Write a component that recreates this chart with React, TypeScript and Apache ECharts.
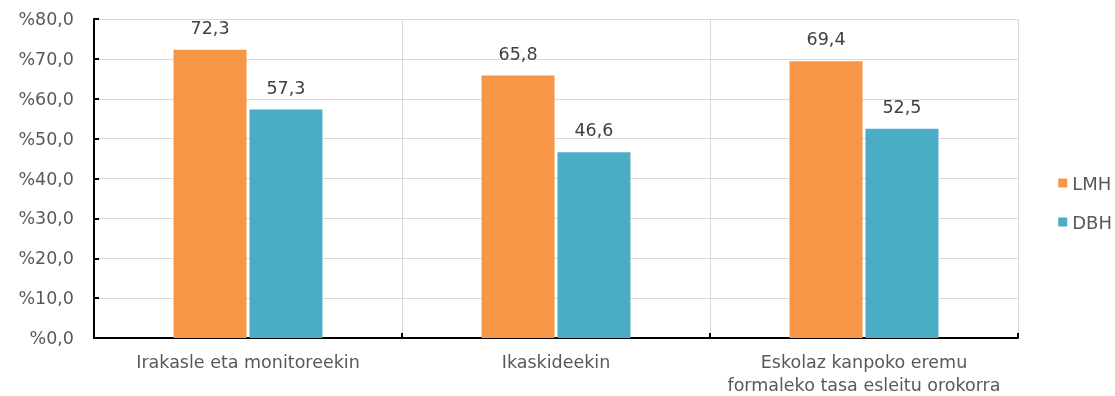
import React, { useEffect, useRef } from "react";
import * as echarts from "echarts";

const categories = [
  "Irakasle eta monitoreekin",
  "Ikaskideekin",
  "Eskolaz kanpoko eremu\nformaleko tasa esleitu orokorra",
];
const lmhValues = [72.3, 65.8, 69.4];
const dbhValues = [57.3, 46.6, 52.5];
const seriesNames = ["LMH", "DBH"];

const FONT = "DejaVu Sans, Verdana, sans-serif";
const FS = 17.5;
const fmt = (v: number) => v.toFixed(1).replace(".", ",");

export default function App() {
  const ref = useRef<HTMLDivElement>(null);
  useEffect(() => {
    if (!ref.current) return;
    const chart = echarts.init(ref.current, undefined, { renderer: "svg" });
    const labelCfg = {
      show: true,
      position: "top" as const,
      distance: 13,
      color: "#404040",
      fontSize: FS,
      fontFamily: FONT,
      formatter: (p: any) => fmt(p.value),
    };
    chart.setOption({
      animation: false,
      textStyle: { fontFamily: FONT },
      grid: { left: 94, right: 97, top: 19, bottom: 56, containLabel: false },
      legend: {
        orient: "vertical",
        right: 3,
        top: 173,
        padding: 0,
        itemWidth: 9,
        itemHeight: 9,
        itemGap: 19,
        icon: "rect",
        textStyle: {
          color: "#595959",
          fontSize: 18,
          lineHeight: 20,
          fontFamily: FONT,
        },
        data: seriesNames,
      },
      xAxis: {
        type: "category",
        data: categories,
        axisLine: { show: true, lineStyle: { color: "#000", width: 2 } },
        axisTick: { show: true, inside: true, length: 5, lineStyle: { color: "#000", width: 2 } },
        splitLine: { show: true, lineStyle: { color: "#d9d9d9", width: 1 } },
        axisLabel: {
          color: "#595959",
          fontSize: FS,
          fontFamily: FONT,
          margin: 12,
          lineHeight: 23,
          interval: 0,
        },
      },
      yAxis: {
        type: "value",
        min: 0,
        max: 80,
        interval: 10,
        axisLine: { show: true, lineStyle: { color: "#000", width: 2 } },
        axisTick: { show: true, inside: true, length: 5, lineStyle: { color: "#000", width: 2 } },
        splitLine: { show: true, lineStyle: { color: "#d9d9d9", width: 1 } },
        axisLabel: {
          color: "#595959",
          fontSize: FS,
          fontFamily: FONT,
          margin: 20,
          formatter: (v: number) => "%" + fmt(v),
        },
      },
      series: [
        {
          name: seriesNames[0],
          type: "bar",
          data: lmhValues,
          barWidth: 73,
          barGap: "4%",
          itemStyle: { color: "#F79646" },
          label: labelCfg,
        },
        {
          name: seriesNames[1],
          type: "bar",
          data: dbhValues,
          barWidth: 73,
          barGap: "4%",
          itemStyle: { color: "#4BACC6" },
          label: labelCfg,
        },
      ],
    });
    return () => chart.dispose();
  }, []);
  return (
    <div
      ref={ref}
      style={{ position: "fixed", left: 0, top: 0, width: 1115, height: 396 }}
    />
  );
}
